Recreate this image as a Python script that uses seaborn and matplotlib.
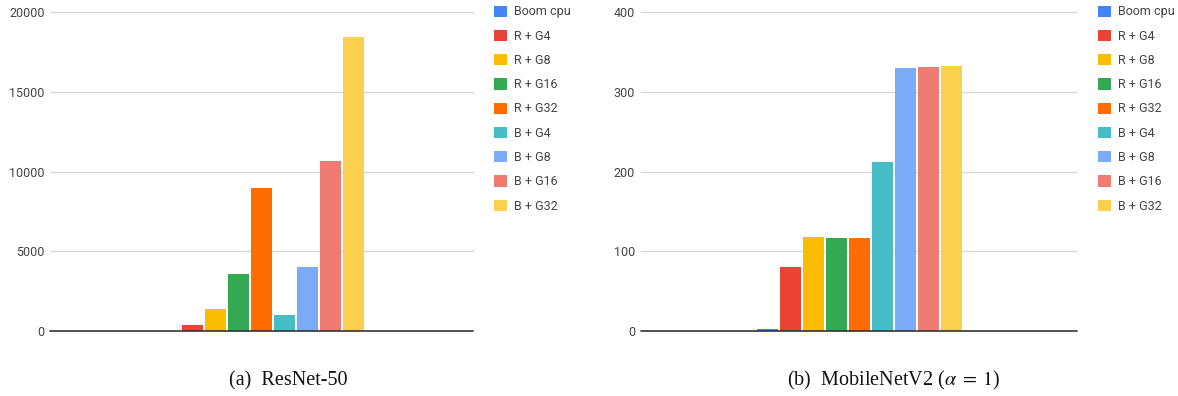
import matplotlib
matplotlib.use("Agg")
import matplotlib.pyplot as plt
import seaborn as sns
import pandas as pd
from matplotlib.patches import Patch

# ---- data ----
configs = ["Boom cpu", "R + G4", "R + G8", "R + G16", "R + G32",
           "B + G4", "B + G8", "B + G16", "B + G32"]
resnet_values = [10, 380, 1360, 3560, 9000, 1000, 4000, 10690, 18450]
mobilenet_values = [2.5, 80, 117.6, 116.3, 116.3, 212.6, 330.1, 331.4, 332.6]
colors = ["#4285F4", "#EA4335", "#FBBC04", "#34A853", "#FF6D01",
          "#46BDC6", "#7BAAF7", "#F07B72", "#FCD04F"]
resnet_ticks = [0, 5000, 10000, 15000, 20000]
mobilenet_ticks = [0, 100, 200, 300, 400]
captions = ["(a)\u2002ResNet-50", "(b)\u2002MobileNetV2 ($\\alpha\\;=\\;1$)"]

W, H = 1178, 396
sns.set_theme(style="white")
plt.rcParams["font.family"] = ["Roboto", "DejaVu Sans"]
plt.rcParams["mathtext.fontset"] = "stix"

fig = plt.figure(figsize=(W / 100, H / 100), dpi=100)

panels = [
    dict(vals=resnet_values, ticks=resnet_ticks, x0=50.0, x1=473.0,
         center=261.7, leg_x=494.0, cap_x=288.5, cap=captions[0]),
    dict(vals=mobilenet_values, ticks=mobilenet_ticks, x0=640.7, x1=1076.7,
         center=859.8, leg_x=1098.3, cap_x=894.0, cap=captions[1]),
]

y_top_px, y_zero_px = 12.3, 331.0
group_px = 207.0

for p in panels:
    ax = fig.add_axes([p["x0"] / W, 1 - y_zero_px / H,
                       (p["x1"] - p["x0"]) / W, (y_zero_px - y_top_px) / H])
    df = pd.DataFrame({"group": ["g"] * len(configs), "config": configs,
                       "value": p["vals"]})
    sns.barplot(data=df, x="group", y="value", hue="config", hue_order=configs,
                palette=colors, gap=2 / 23, linewidth=0, legend=False,
                errorbar=None, ax=ax, saturation=1)
    upp = 0.8 / group_px
    ax.set_xlim(-(p["center"] - p["x0"]) * upp, (p["x1"] - p["center"]) * upp)
    ax.set_ylim(p["ticks"][0], p["ticks"][-1])
    ax.set_yticks(p["ticks"])
    ax.set_yticklabels([str(t) for t in p["ticks"]])
    ax.set_xticks([])
    ax.set_xlabel("")
    ax.set_ylabel("")
    for s in ax.spines.values():
        s.set_visible(False)
    ax.tick_params(axis="y", length=0, pad=4, labelsize=9, labelcolor="#444444")
    for t in p["ticks"][1:]:
        ax.axhline(t, color="#d9d9d9", lw=1.0, zorder=0, clip_on=False)
    ax.axhline(0, color="#333333", lw=1.2, zorder=5, clip_on=False)
    ax.set_facecolor("white")

    handles = [Patch(facecolor=c, edgecolor="none", label=l)
               for c, l in zip(colors, configs)]
    fig.legend(handles=handles, loc="upper left",
               bbox_to_anchor=(p["leg_x"] / W, 1 - 5.5 / H),
               frameon=False, fontsize=9, handlelength=1.0, handleheight=1.0,
               handletextpad=0.6, labelspacing=0.9, borderpad=0,
               borderaxespad=0, labelcolor="#444444")

    fig.text(p["cap_x"] / W, 1 - 380.7 / H, p["cap"], ha="center", va="center",
             fontsize=14.5, family=["Liberation Serif", "DejaVu Serif"], color="#111111")

fig.savefig("out.png", dpi=100, facecolor="white")
